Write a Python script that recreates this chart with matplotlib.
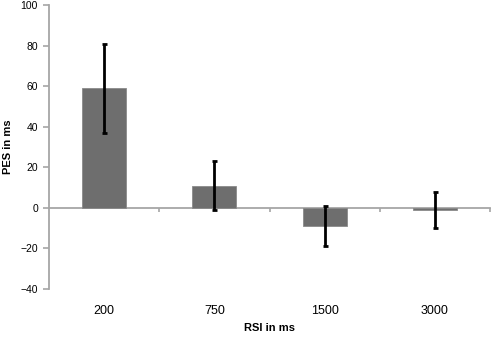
import matplotlib.pyplot as plt
from matplotlib.ticker import FixedLocator

rsi = ["200", "750", "1500", "3000"]
pes = [59, 11, -9, -1]
err_low = [37, -1, -19, -10]
err_high = [81, 23, 1, 8]

plt.rcParams["font.family"] = ["Liberation Sans", "DejaVu Sans"]

fig = plt.figure(figsize=(4.92, 3.42), dpi=100)
ax = fig.add_axes([0.0996, 0.155, 0.8964, 0.830])

x = list(range(len(rsi)))
yerr = [[p - lo for p, lo in zip(pes, err_low)], [hi - p for p, hi in zip(pes, err_high)]]
ax.bar(x, pes, width=0.4, color="#6e6e6e", edgecolor="#8a8a8a", linewidth=0.6, zorder=2)
ax.errorbar(x, pes, yerr=yerr, fmt="none", ecolor="black", elinewidth=2,
            capsize=1.8, capthick=2, zorder=3)

ax.set_xlim(-0.5, len(rsi) - 0.5)
ax.set_ylim(-40, 100)
ax.set_yticks(range(-40, 101, 20))

axis_grey = "#a6a6a6"
for side in ("top", "right"):
    ax.spines[side].set_visible(False)
ax.spines["left"].set_color(axis_grey)
ax.spines["left"].set_linewidth(1.3)
ax.spines["bottom"].set_position(("data", 0))
ax.spines["bottom"].set_color(axis_grey)
ax.spines["bottom"].set_linewidth(1.3)
ax.spines["bottom"].set_zorder(1)

ax.set_xticks(x)
ax.set_xticklabels(rsi)
ax.xaxis.set_minor_locator(FixedLocator([i + 0.5 for i in x]))
ax.tick_params(axis="x", which="major", length=0, pad=70, labelsize=9)
ax.tick_params(axis="x", which="minor", length=3, width=1.2, color=axis_grey, direction="out")
ax.tick_params(axis="y", length=4, width=1.2, color=axis_grey, labelsize=7.5, pad=4)

ax.set_xlabel("RSI in ms", fontweight="bold", fontsize=8)
ax.set_ylabel("PES in ms", fontweight="bold", fontsize=8)
ax.xaxis.set_label_coords(0.5, -0.12)
ax.yaxis.set_label_coords(-0.082, 0.5)

fig.savefig("out.png", dpi=100)
